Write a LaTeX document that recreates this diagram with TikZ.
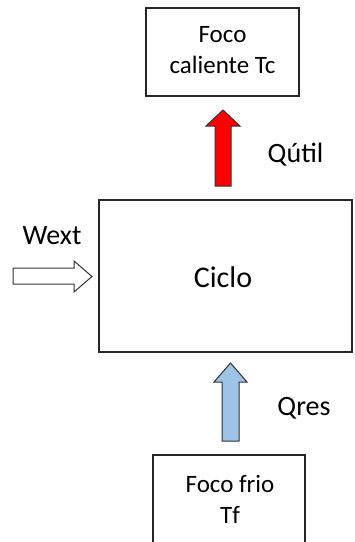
\documentclass[tikz,border=0pt]{standalone}
\usepackage{fontspec}
\setmainfont{Carlito}
\begin{document}
\begin{tikzpicture}[x=1pt,y=-1pt,
  boxnode/.style={draw=black!85,line width=1.3pt,inner sep=0pt},
  boxtext/.style={font=\fontsize{25}{31}\selectfont,align=center,inner sep=0pt},
  labeltext/.style={font=\fontsize{28}{32}\selectfont,inner sep=0pt},
  blockarrow/.style={draw=black!80,line width=1pt,line join=miter}]
\useasboundingbox (0,0) rectangle (355,542);
\fill[white] (0,0) rectangle (355,542);
% boxes
\node[boxnode,minimum width=153pt,minimum height=88pt] (hot) at (222.5,52) {};
\node[boxtext] (hottext) at (222.5,50) {Foco\\caliente Tc};
\node[boxnode,minimum width=253pt,minimum height=152pt] (ciclo) at (225.5,276) {};
\node[font=\fontsize{30}{34}\selectfont,inner sep=0pt] (ciclotext) at (223,277) {Ciclo};
\node[boxnode,minimum width=152pt,minimum height=100pt] (cold) at (229,505) {};
\node[boxtext] (coldtext) at (230,499) {Foco frio\\Tf};
% block arrows
\draw[blockarrow,fill=red] (215,186)--(215,126)--(206,126)--(223,110)--(240,126)--(231,126)--(231,186)--cycle;
\draw[blockarrow,fill={rgb,255:red,157;green,195;blue,230}] (222,441)--(222,382)--(214,382)--(230.5,363)--(247,382)--(239,382)--(239,441)--cycle;
\draw[blockarrow,fill=white] (13,268)--(74,268)--(74,261)--(92,276.5)--(74,292)--(74,284)--(13,284)--cycle;
% labels
\node[labeltext] (qutil) at (295.5,155) {Qútil};
\node[labeltext] (qres) at (304,408) {Qres};
\node[labeltext] (wext) at (52,236) {Wext};
\end{tikzpicture}
\end{document}
